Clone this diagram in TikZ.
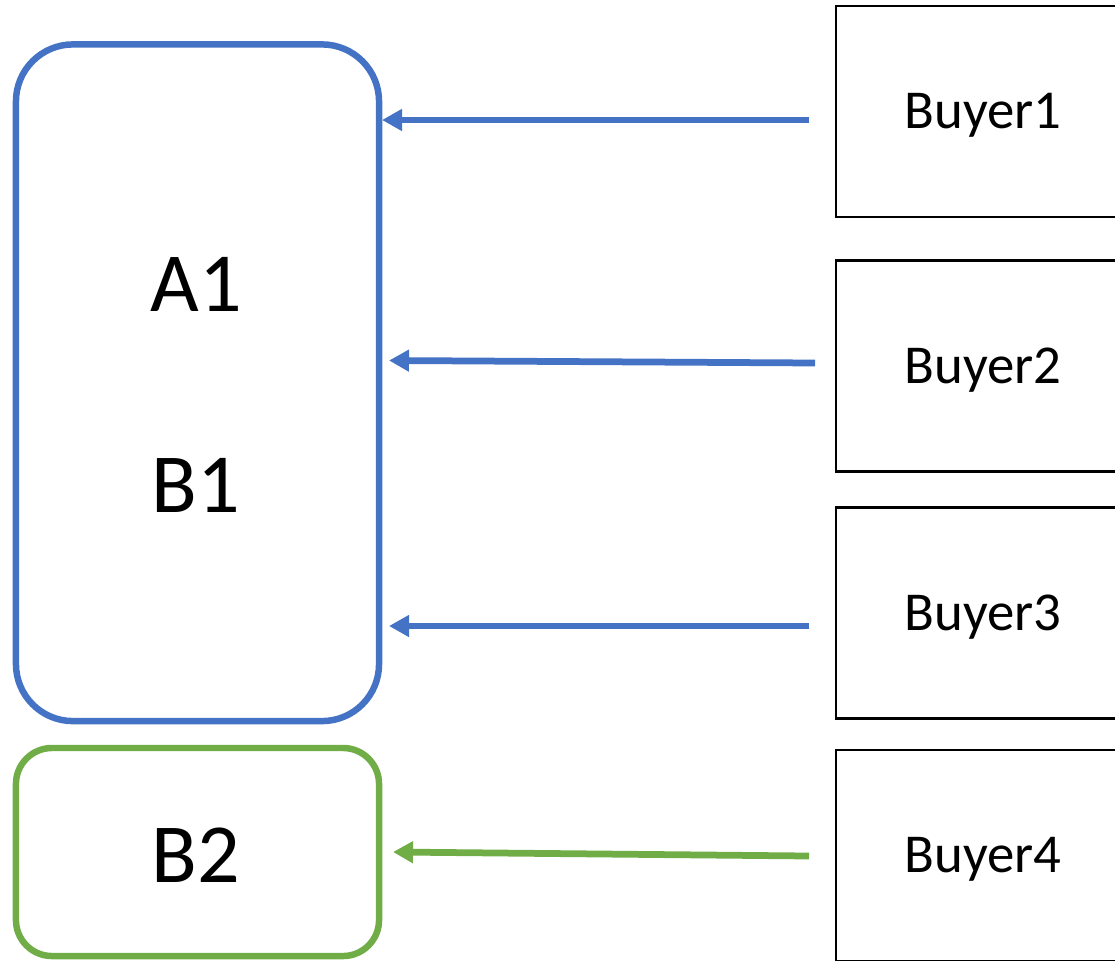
\documentclass[tikz,border=0pt]{standalone}
\usepackage{fontspec}
\setmainfont{Carlito}
\usetikzlibrary{arrows.meta}
\definecolor{ablue}{HTML}{4472C4}
\definecolor{agreen}{HTML}{70AD47}

\begin{document}
\begin{tikzpicture}[x=0.025cm, y=-0.025cm,
  group/.style={draw, line width=4.6pt, minimum width=9.075cm},
  buyer/.style={draw, line width=1.7pt, minimum width=7.35cm,
    minimum height=5.275cm, text height=0.85cm, text depth=0pt,
    font=\fontsize{39}{41}\selectfont},
  big/.style={anchor=base, font=\fontsize{59.8}{62}\selectfont},
  link/.style={-{Triangle[length=0.5cm, width=0.52cm]}, line width=4.8pt}]
  \useasboundingbox (0,0) rectangle (1115,960);

  % seller groups
  \node[group, draw=ablue, rounded corners=1.425cm,
    minimum height=16.9125cm] (G1) at (197.5,382.75) {};
  \node[group, draw=agreen, rounded corners=0.9cm,
    minimum height=5.2cm] (G2) at (197.5,852) {};
  \node[big] (A1) at (196,311) {A1};
  \node[big] (B1) at (196,512) {B1};
  \node[big] (B2) at (196,882) {B2};

  % buyers
  \node[buyer] (U1) at (983,111.5) {Buyer1};
  \node[buyer] (U2) at (983,366) {Buyer2};
  \node[buyer] (U3) at (983,613) {Buyer3};
  \node[buyer] (U4) at (983,855.5) {Buyer4};

  % arrow ends
  \coordinate (s1) at (809,120);   \coordinate (e1) at (382,120);
  \coordinate (s2) at (815,363);   \coordinate (e2) at (389,360.5);
  \coordinate (s3) at (809,626);   \coordinate (e3) at (389,626);
  \coordinate (s4) at (809,856);   \coordinate (e4) at (393,852);

  \draw[link, ablue] (s1) -- (e1);
  \draw[link, ablue] (s2) -- (e2);
  \draw[link, ablue] (s3) -- (e3);
  \draw[link, agreen] (s4) -- (e4);
\end{tikzpicture}
\end{document}
